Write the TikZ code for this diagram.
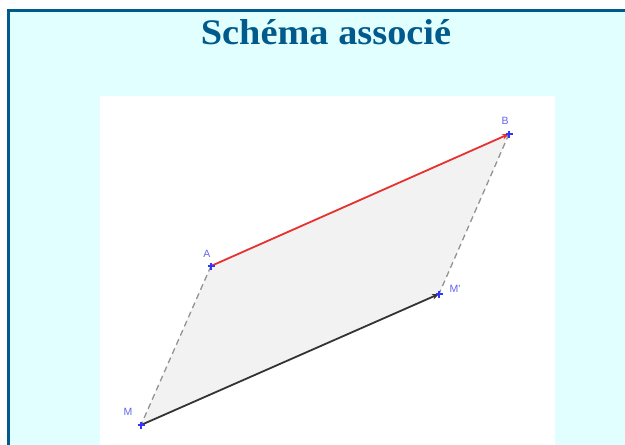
\documentclass[tikz,border=0pt]{standalone}
\usepackage{fontspec}
\setmainfont{Liberation Serif}
\newfontfamily\labfont{Liberation Sans}
\usetikzlibrary{arrows.meta}
\definecolor{frameblue}{HTML}{005B8C}
\definecolor{bgcyan}{HTML}{E1FFFF}
\definecolor{ptblue}{HTML}{3333FF}
\definecolor{lblblue}{HTML}{6464F0}
\definecolor{vecred}{HTML}{E8302E}
\definecolor{fillgray}{HTML}{F2F2F2}
\tikzset{
  ptcross/.style={draw=ptblue, line width=1.5pt},
  ptlabel/.style={text=lblblue, font=\labfont\fontsize{10.5}{10.5}\selectfont, inner sep=0pt},
  dashside/.style={draw=gray!85, dashed, dash pattern=on 6pt off 4pt, line width=1.3pt},
  vecline/.style={line width=1.8pt, -{Stealth[length=7pt,width=5.5pt]}},
}
\begin{document}
\begin{tikzpicture}[x=1pt,y=-1pt]
\useasboundingbox (0,0) rectangle (625,445);
\fill[white] (0,0) rectangle (625,445);
\fill[bgcyan] (8.3,10.5) rectangle (630,450);
\draw[frameblue, line width=3pt] (8.3,10.5) -- (630,10.5);
\draw[frameblue, line width=3pt] (8.3,9) -- (8.3,450);
\node[text=frameblue, font=\bfseries\fontsize{36}{36}\selectfont, inner sep=0pt, anchor=base, xscale=1.065] (title) at (326,44) {Schéma associé};
\fill[white] (100,96) rectangle (555,450);
\coordinate (A) at (211,266);
\coordinate (B) at (509,134);
\coordinate (M) at (141,425);
\coordinate (Mp) at (439,294);
\fill[fillgray] (A) -- (B) -- (Mp) -- (M) -- cycle;
\draw[dashside] (A) -- (M);
\draw[dashside] (B) -- (Mp);
\draw[vecred, vecline] (A) -- (B);
\draw[black!80, vecline] (M) -- (Mp);
\foreach \p in {A,B,M,Mp}{
  \draw[ptcross] ([xshift=-3.5pt]\p) -- ([xshift=3.5pt]\p);
  \draw[ptcross] ([yshift=-3.5pt]\p) -- ([yshift=3.5pt]\p);
}
\node[ptlabel] (lA) at (207,254) {A};
\node[ptlabel] (lB) at (505,121) {B};
\node[ptlabel] (lM) at (128,412) {M};
\node[ptlabel] (lMp) at (455,289) {M'};
\end{tikzpicture}
\end{document}
